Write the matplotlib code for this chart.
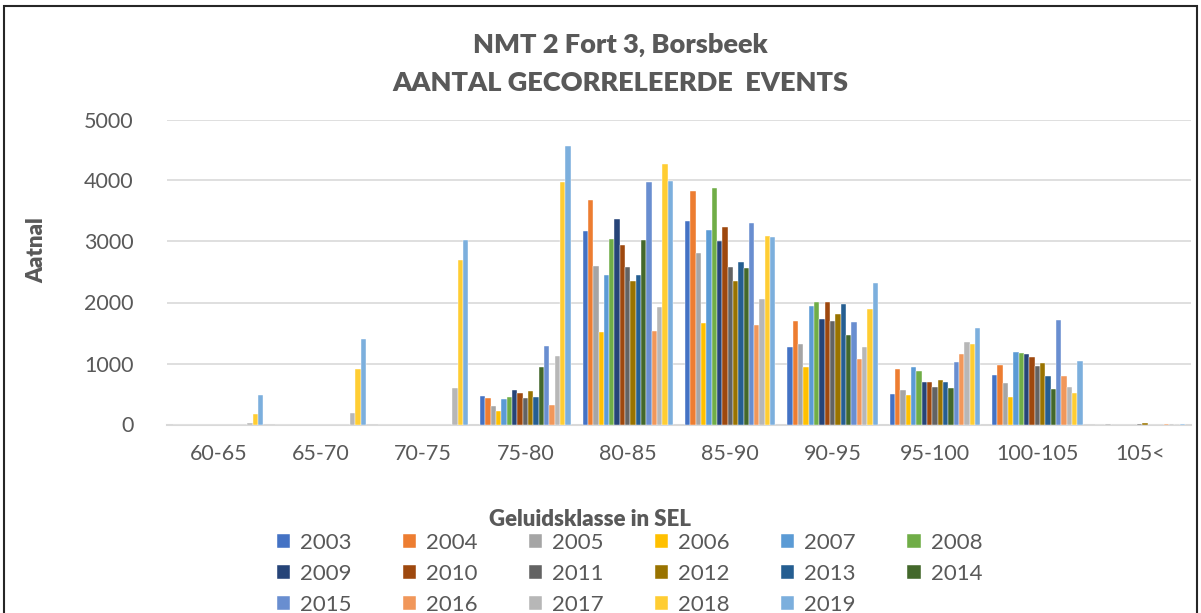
import numpy as np
import matplotlib
matplotlib.use("Agg")
import matplotlib.pyplot as plt
from matplotlib.patches import Rectangle

# data
klassen = ['60-65', '65-70', '70-75', '75-80', '80-85', '85-90',
           '90-95', '95-100', '100-105', '105<']
jaren = ['2003', '2004', '2005', '2006', '2007', '2008', '2009', '2010', '2011',
         '2012', '2013', '2014', '2015', '2016', '2017', '2018', '2019']

# one list per year, values per class
y2003 = [0, 0, 0, 467, 3172, 3336, 1275, 495, 811, 0]
y2004 = [0, 0, 0, 440, 3680, 3828, 1697, 905, 975, 0]
y2005 = [0, 0, 0, 308, 2598, 2811, 1320, 566, 680, 5]
y2006 = [0, 0, 0, 221, 1516, 1659, 938, 484, 456, 0]
y2007 = [0, 0, 0, 423, 2445, 3184, 1948, 943, 1193, 0]
y2008 = [0, 0, 0, 451, 3036, 3882, 2003, 872, 1172, 0]
y2009 = [0, 0, 0, 571, 3364, 3013, 1734, 692, 1156, 0]
y2010 = [0, 0, 0, 516, 2948, 3243, 2003, 692, 1107, 0]
y2011 = [0, 0, 0, 429, 2582, 2582, 1697, 615, 959, 15]
y2012 = [0, 0, 0, 544, 2352, 2352, 1817, 725, 1003, 25]
y2013 = [0, 0, 0, 446, 2451, 2664, 1970, 692, 790, 0]
y2014 = [0, 0, 0, 943, 3025, 2566, 1467, 593, 577, 0]
y2015 = [0, 0, 0, 1282, 3970, 3298, 1686, 1030, 1713, 0]
y2016 = [0, 0, 0, 320, 1527, 1631, 1074, 1161, 790, 8]
y2017 = [20, 185, 603, 1118, 1921, 2057, 1270, 1352, 615, 12]
y2018 = [164, 905, 2690, 3980, 4276, 3095, 1893, 1315, 511, 0]
y2019 = [485, 1407, 3020, 4566, 3992, 3074, 2325, 1587, 1041, 15]

reeksen = [y2003, y2004, y2005, y2006, y2007, y2008, y2009, y2010, y2011,
           y2012, y2013, y2014, y2015, y2016, y2017, y2018, y2019]

kleuren = ['#4472C4', '#ED7D31', '#A5A5A5', '#FFC000', '#5B9BD5', '#70AD47',
           '#264478', '#9E480E', '#636363', '#997300', '#255E91', '#43682B',
           '#698ED0', '#F1975A', '#B7B7B7', '#FFCD33', '#7CAFDD']

grijs = '#595959'
plt.rcParams['font.family'] = ['Lato', 'DejaVu Sans']

W, H = 1201, 613
fig = plt.figure(figsize=(W / 100, H / 100), dpi=100)
ax = fig.add_axes([167 / W, (H - 424.5) / H, (1191 - 167) / W, 305 / H])

x = np.arange(len(klassen))
bw = 0.052
n = len(reeksen)
for i, (vals, kl, jaar) in enumerate(zip(reeksen, kleuren, jaren)):
    ax.bar(x + (i - (n - 1) / 2) * bw, vals, width=bw, color=kl,
           edgecolor='white', linewidth=0.3, label=jaar, zorder=3)

ax.set_xlim(-0.5, len(klassen) - 0.5)
ax.set_ylim(0, 5000)
ax.set_yticks(range(0, 5001, 1000))
ax.set_xticks(x)
ax.set_xticklabels(klassen)
ax.tick_params(axis='both', length=0, labelsize=15.5, colors=grijs)
ax.tick_params(axis='x', pad=14)
ax.tick_params(axis='y', pad=24)
ax.grid(axis='y', color='#D9D9D9', linewidth=1.2, zorder=0)
for s in ['top', 'right', 'left']:
    ax.spines[s].set_visible(False)
ax.spines['bottom'].set_color('#D9D9D9')
ax.spines['bottom'].set_linewidth(1.5)

# titles
fig.text(620 / W, 1 - 45 / H, 'NMT 2 Fort 3, Borsbeek', ha='center', va='center',
         fontsize=19.5, fontweight='heavy', color=grijs)
fig.text(620 / W, 1 - 83 / H, 'AANTAL GECORRELEERDE  EVENTS', ha='center', va='center',
         fontsize=19.5, fontweight='heavy', color=grijs)
fig.text(37 / W, 1 - 250 / H, 'Aatnal', ha='center', va='center', rotation=90,
         fontsize=16, fontweight='heavy', color=grijs)
fig.text(590 / W, 1 - 519 / H, 'Geluidsklasse in SEL', ha='center', va='center',
         fontsize=16, fontweight='heavy', color=grijs)

# legend filled row by row (matplotlib fills by column)
h, l = ax.get_legend_handles_labels()
ncol = 6
volgorde = [6 * r + c for c in range(ncol) for r in range(3) if 6 * r + c < n]
fig.legend([h[k] for k in volgorde], [l[k] for k in volgorde],
           loc='upper left', bbox_to_anchor=(277 / W, 1 - 533 / H), ncol=ncol,
           frameon=False, fontsize=16, labelcolor=grijs, handlelength=0.6,
           handleheight=0.6, handletextpad=0.45, columnspacing=2.3,
           labelspacing=0.5, borderaxespad=0, borderpad=0)

# chart frame
fig.patches.append(Rectangle((4 / W, -0.2), 1193 / W, 1.2 - 6 / H,
                             transform=fig.transFigure, fill=False,
                             edgecolor='#262626', linewidth=1.5))

fig.savefig('out.png', dpi=100)
